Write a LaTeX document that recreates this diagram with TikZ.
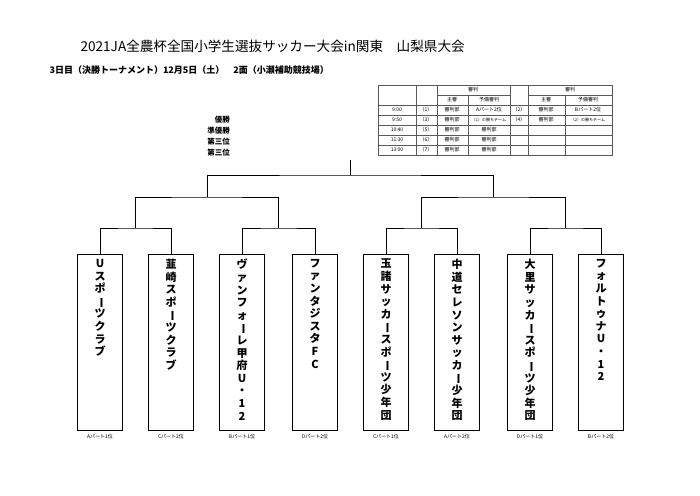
\documentclass[tikz,border=0pt]{standalone}
\usepackage{fontspec}
\setmainfont{Noto Sans CJK JP}
\usepackage{graphicx}
\begin{document}
\begin{tikzpicture}[x=1pt,y=-1pt,
  team/.style={draw,line width=0.5pt,minimum width=45pt,minimum height=176pt,anchor=north,inner sep=0pt},
  br/.style={line width=0.5pt},
  tcell/.style={font=\fontsize{5}{5}\selectfont,anchor=center,inner sep=0pt},
  lab/.style={font=\fontsize{5}{5}\selectfont,inner sep=0pt}]
\useasboundingbox[fill=white] (0,0) rectangle (700,495);
\node[anchor=west,font=\fontsize{13.6}{14}\selectfont] (title) at (77,46) {2021JA全農杯全国小学生選抜サッカー大会in関東　山梨県大会};
\node[anchor=west,font=\fontsize{9}{9}\selectfont\bfseries] (sub) at (46,70) {3日目（決勝トーナメント）12月5日（土）　2面（小瀬補助競技場）};
\foreach \t/\y [count=\i] in {優勝/120,準優勝/131,第三位/142,第三位/153}
  \node[anchor=east,font=\fontsize{7.5}{8}\selectfont\bfseries,inner sep=0pt] (rk\i) at (230,\y) {\t};
% table
\draw[line width=0.4pt,gray!70!black] (378,85) rectangle (612,155);
\foreach \x in {416,437,510,528} \draw[line width=0.4pt,gray!70!black] (\x,85) -- (\x,155);
\foreach \x in {468,565} \draw[line width=0.4pt,gray!70!black] (\x,95) -- (\x,155);
\draw[line width=0.4pt,gray!70!black] (437,95) -- (510,95) (528,95) -- (612,95);
\foreach \y in {105,115,125,135,145} \draw[line width=0.4pt,gray!70!black] (378,\y) -- (612,\y);
\node[tcell] (h1) at (473,90) {審判};
\node[tcell] (h2) at (570,90) {審判};
\node[tcell] (h3) at (452,100) {主審};
\node[tcell] (h4) at (489,100) {予備審判};
\node[tcell] (h5) at (546,100) {主審};
\node[tcell] (h6) at (588,100) {予備審判};
\foreach \tm/\n/\y [count=\i] in {9:00/1/110,9:50/3/120,10:40/5/130,11:30/6/140,13:00/7/150}{
  \node[tcell] (tm\i) at (397,\y) {\tm};
  \node[tcell] (no\i) at (426,\y) {（\n）};
  \node[tcell] (s\i) at (452,\y) {審判部};
}
\node[tcell] (y1) at (489,110) {Aパート2位};
\node[tcell,font=\fontsize{4}{4}\selectfont] (y2) at (489,120) {（1）の勝ちチーム};
\node[tcell] (y3) at (489,130) {審判部};
\node[tcell] (y4) at (489,140) {審判部};
\node[tcell] (y5) at (489,150) {審判部};
\node[tcell] (n2) at (519,110) {（2）};
\node[tcell] (n4) at (519,120) {（4）};
\node[tcell] (s2a) at (546,110) {審判部};
\node[tcell] (s4a) at (546,120) {審判部};
\node[tcell] (y2a) at (588,110) {Bパート2位};
\node[tcell,font=\fontsize{4}{4}\selectfont] (y4a) at (588,120) {（2）の勝ちチーム};
% teams
\newcommand{\vb}{\rotatebox[origin=c]{-90}{ー}}
\def\teamtext#1{\parbox{12pt}{\centering\fontsize{11}{12.6}\selectfont\bfseries #1}}
\foreach \xc/\txt/\lb [count=\i] in {
 100/{U\\ス\\ポ\\\vb\\ツ\\ク\\ラ\\ブ}/Aパート1位,
 171/{韮\\崎\\ス\\ポ\\\vb\\ツ\\ク\\ラ\\ブ}/Cパート2位,
 242/{ヴ\\ァ\\ン\\フ\\ォ\\\vb\\レ\\甲\\府\\U\\・\\1\\2}/Bパート1位,
 315/{フ\\ァ\\ン\\タ\\ジ\\ス\\タ\\F\\C}/Dパート2位,
 386/{玉\\諸\\サ\\ッ\\カ\\\vb\\ス\\ポ\\\vb\\ツ\\少\\年\\団}/Cパート1位,
 457/{中\\道\\セ\\レ\\ソ\\ン\\サ\\ッ\\カ\\\vb\\少\\年\\団}/Aパート2位,
 530/{大\\里\\サ\\ッ\\カ\\\vb\\ス\\ポ\\\vb\\ツ\\少\\年\\団}/Dパート1位,
 601/{フ\\ォ\\ル\\ト\\ゥ\\ナ\\U\\・\\1\\2}/Bパート2位}{
  \node[team] (t\i) at (\xc,254) {};
  \node[anchor=north,inner sep=0pt] (tt\i) at (\xc,259) {\teamtext{\txt}};
  \node[lab] (l\i) at (\xc,437) {\lb};
}
% bracket
\coordinate (a1) at (135,228); \coordinate (a2) at (278.5,228);
\coordinate (a3) at (421.5,228); \coordinate (a4) at (565.5,228);
\coordinate (b1) at (206.75,197); \coordinate (b2) at (493.5,197);
\coordinate (c) at (350,175); \coordinate (top) at (350,160);
\draw[br] (t1.north) |- (a1) -| (t2.north);
\draw[br] (t3.north) |- (a2) -| (t4.north);
\draw[br] (t5.north) |- (a3) -| (t6.north);
\draw[br] (t7.north) |- (a4) -| (t8.north);
\draw[br] (a1) |- (b1) -| (a2);
\draw[br] (a3) |- (b2) -| (a4);
\draw[br] (b1) |- (c) -| (b2);
\draw[br] (c) -- (top);
\end{tikzpicture}
\end{document}
